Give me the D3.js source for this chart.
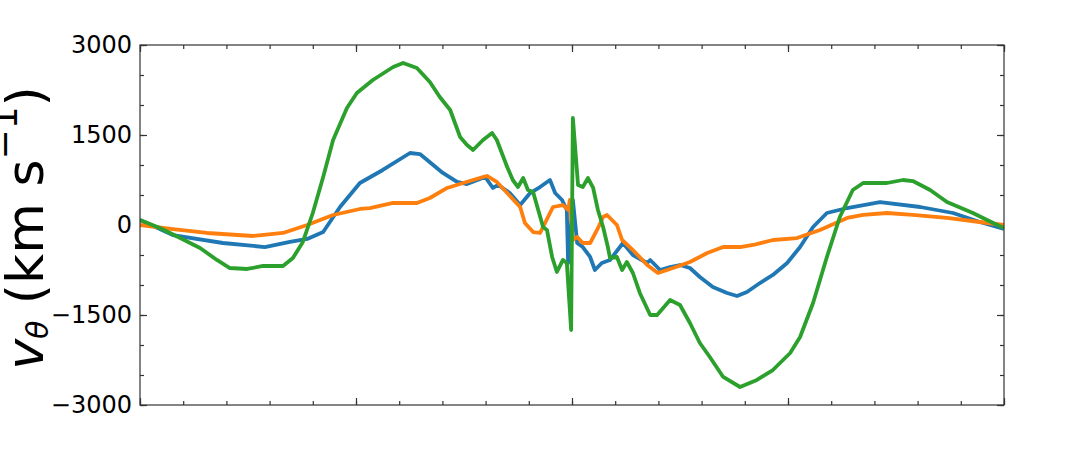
<!DOCTYPE html>
<html>
<head>
<meta charset="utf-8">
<script src="https://cdn.jsdelivr.net/npm/d3@7"></script>
<style>
  body { margin: 0; background: #fff; }
  svg { display: block; font-family: "DejaVu Sans", sans-serif; }
</style>
</head>
<body>
<div id="chart"></div>
<script>
"use strict";

const WIDTH = 1080
const HEIGHT = 450
const margin = { top: 45, bottom: 45, left: 140, right: 76 }

// x positions run -100..100 across the frame, values in km/s
const blueSeries = [[-100,83],[-92.4,-167],[-80.8,-300],[-71.1,-367],[-65.3,-283],[-61.3,-233],[-57.6,-117],
  [-53.7,300],[-49.1,700],[-43.8,917],[-37.5,1200],[-35.2,1183],[-29.9,867],[-26.6,717],[-24.3,683],
  [-20.1,800],[-18.3,617],[-17.1,667],[-14.4,533],[-12.0,333],[-9.7,533],[-7.4,633],[-5.1,750],[-3.9,533],
  [-2.3,417],[-1.2,250],[-0.9,-633],[0.2,417],[1.2,-300],[2.5,-367],[4.2,-533],[5.3,-750],[6.9,-633],
  [8.8,-583],[11.8,-300],[14.1,-500],[17.4,-633],[18.1,-583],[20.4,-750],[22.7,-700],[25.0,-667],
  [27.3,-717],[29.6,-867],[32.6,-1033],[35.9,-1133],[38.2,-1183],[40.5,-1117],[43.5,-967],[46.5,-833],
  [49.8,-633],[52.8,-367],[55.8,-33],[59.0,200],[63.7,283],[71.3,383],[80.6,300],[88.2,200],[94.4,50],[100,-67]]

const orangeSeries = [[-100,0],[-92.4,-67],[-84.5,-133],[-73.8,-183],[-66.9,-133],[-61.3,0],[-55.3,167],
  [-49.1,267],[-46.8,283],[-41.4,367],[-35.9,367],[-32.9,450],[-28.9,617],[-25.2,700],[-20.6,800],
  [-19.7,817],[-17.4,717],[-15.0,533],[-12.0,300],[-10.9,33],[-9.0,-117],[-7.4,-133],[-4.4,300],
  [-2.1,333],[-0.9,250],[-0.5,417],[0.2,-250],[1.2,-200],[2.5,-300],[4.2,-300],[5.8,-83],[7.2,133],
  [8.1,167],[10.4,0],[11.6,-250],[14.1,-417],[17.4,-667],[19.9,-800],[23.4,-717],[27.3,-617],[31.3,-467],
  [35.0,-367],[38.9,-367],[41.9,-333],[46.5,-250],[52.1,-217],[57.4,-83],[63.7,117],[67.4,167],
  [72.9,200],[78.9,167],[86.8,117],[94.4,50],[100,0]]

const greenSeries = [[-100,83],[-95.4,-50],[-90.7,-217],[-86.1,-383],[-82.2,-583],[-79.2,-717],[-75.2,-733],
  [-71.5,-683],[-66.9,-683],[-64.6,-550],[-62.3,-283],[-60.0,200],[-57.6,800],[-55.3,1417],[-52.1,1950],
  [-49.8,2200],[-46.1,2417],[-41.4,2633],[-39.1,2700],[-35.9,2617],[-32.9,2383],[-30.6,2133],[-28.2,1917],
  [-25.9,1467],[-24.3,1333],[-22.9,1250],[-20.6,1417],[-18.5,1533],[-17.4,1417],[-15.0,967],[-13.7,750],
  [-12.5,633],[-11.3,783],[-10.2,583],[-9.0,550],[-6.7,-33],[-5.8,-83],[-4.6,-533],[-3.5,-783],[-2.1,-583],
  [-1.2,-633],[-0.2,-1750],[0.2,1783],[1.4,667],[2.5,633],[3.7,783],[4.9,617],[6.0,250],[7.2,-33],
  [8.3,-367],[8.8,-550],[10.4,-533],[11.6,-750],[12.7,-617],[14.1,-800],[15.7,-1133],[18.1,-1500],
  [19.7,-1500],[22.7,-1250],[25.0,-1333],[27.3,-1633],[29.6,-1967],[31.9,-2200],[35.0,-2533],[38.9,-2700],
  [42.8,-2583],[46.5,-2417],[50.5,-2133],[52.8,-1867],[55.8,-1300],[59.0,-533],[62.0,133],[65.0,583],
  [67.4,700],[72.9,700],[76.6,750],[78.9,733],[82.9,583],[86.8,383],[92.8,200],[97.5,33],[100,-50]]

const seriesColors = ['#1f77b4', '#ff7f0e', '#2ca02c']

const yTicks = [-3000, -1500, 0, 1500, 3000]
const yMinorTicks = d3.range(-3000, 3001, 500)
const xTicks = [-100, -50, 0, 50, 100]
const xMinorTicks = d3.range(-100, 101, 10)

const svg = d3.select("#chart").append("svg")
    .attr("width", WIDTH)
    .attr("height", HEIGHT)

const x_scale = d3.scaleLinear().domain([-100, 100]).range([margin.left, WIDTH - margin.right])
const y_scale = d3.scaleLinear().domain([-3000, 3000]).range([HEIGHT - margin.bottom, margin.top])

function fmt(d) {
    return d < 0 ? "\u2212" + Math.abs(d) : String(d)
}

function styleAxis(g) {
    g.select(".domain").remove()
    g.selectAll(".tick line").attr("stroke", "#333").attr("stroke-width", 1.2)
}

// inward ticks on all four sides
const x0 = x_scale.range()[0], x1 = x_scale.range()[1]
const y0 = y_scale.range()[0], y1 = y_scale.range()[1]

svg.append("g").attr("transform", `translate(${x0},0)`)
    .call(d3.axisLeft(y_scale).tickValues(yTicks).tickSize(-7).tickPadding(8).tickFormat(fmt))
    .call(styleAxis)
    .selectAll("text").attr("font-size", "24px").attr("fill", "#000")
        .attr("font-family", "DejaVu Sans")
svg.append("g").attr("transform", `translate(${x0},0)`)
    .call(d3.axisLeft(y_scale).tickValues(yMinorTicks).tickSize(-4).tickFormat(""))
    .call(styleAxis)
svg.append("g").attr("transform", `translate(${x1},0)`)
    .call(d3.axisRight(y_scale).tickValues(yTicks).tickSize(-7).tickFormat(""))
    .call(styleAxis)
svg.append("g").attr("transform", `translate(${x1},0)`)
    .call(d3.axisRight(y_scale).tickValues(yMinorTicks).tickSize(-4).tickFormat(""))
    .call(styleAxis)

svg.append("g").attr("transform", `translate(0,${y0})`)
    .call(d3.axisBottom(x_scale).tickValues(xTicks).tickSize(-7).tickFormat(""))
    .call(styleAxis)
svg.append("g").attr("transform", `translate(0,${y0})`)
    .call(d3.axisBottom(x_scale).tickValues(xMinorTicks).tickSize(-4).tickFormat(""))
    .call(styleAxis)
svg.append("g").attr("transform", `translate(0,${y1})`)
    .call(d3.axisTop(x_scale).tickValues(xTicks).tickSize(-7).tickFormat(""))
    .call(styleAxis)
svg.append("g").attr("transform", `translate(0,${y1})`)
    .call(d3.axisTop(x_scale).tickValues(xMinorTicks).tickSize(-4).tickFormat(""))
    .call(styleAxis)

svg.append("defs").append("clipPath").attr("id", "clip")
    .append("rect")
    .attr("x", x0).attr("y", y1)
    .attr("width", x1 - x0).attr("height", y0 - y1)

const line = d3.line()
    .x(d => x_scale(d[0]))
    .y(d => y_scale(d[1]))

const plot = svg.append("g").attr("clip-path", "url(#clip)")
;[blueSeries, orangeSeries, greenSeries].forEach((s, i) => {
    plot.append("path")
        .datum(s)
        .attr("d", line)
        .attr("fill", "none")
        .attr("stroke", seriesColors[i])
        .attr("stroke-width", 3.8)
        .attr("stroke-linejoin", "round")
        .attr("stroke-linecap", "butt")
})

// frame
svg.append("rect")
    .attr("x", x0).attr("y", y1)
    .attr("width", x1 - x0).attr("height", y0 - y1)
    .attr("fill", "none")
    .attr("stroke", "#333")
    .attr("stroke-width", 1.2)

// y label: v_theta (km s^-1), partly cut at the left edge like the original
const ylab = svg.append("text")
    .attr("transform", `translate(43, ${(y0 + y1) / 2 + 3}) rotate(-90)`)
    .attr("text-anchor", "middle")
    .attr("font-size", "52px")
    .attr("fill", "#000")
ylab.append("tspan").attr("font-style", "italic").text("v")
ylab.append("tspan").attr("font-style", "italic").attr("font-size", "30px").attr("dy", 5).text("\u03b8")
ylab.append("tspan").attr("dy", -5).text(" (km s")
ylab.append("tspan").attr("font-size", "36px").attr("dy", -26).text("\u22121")
ylab.append("tspan").attr("dy", 26).text(")")
</script>
</body>
</html>
